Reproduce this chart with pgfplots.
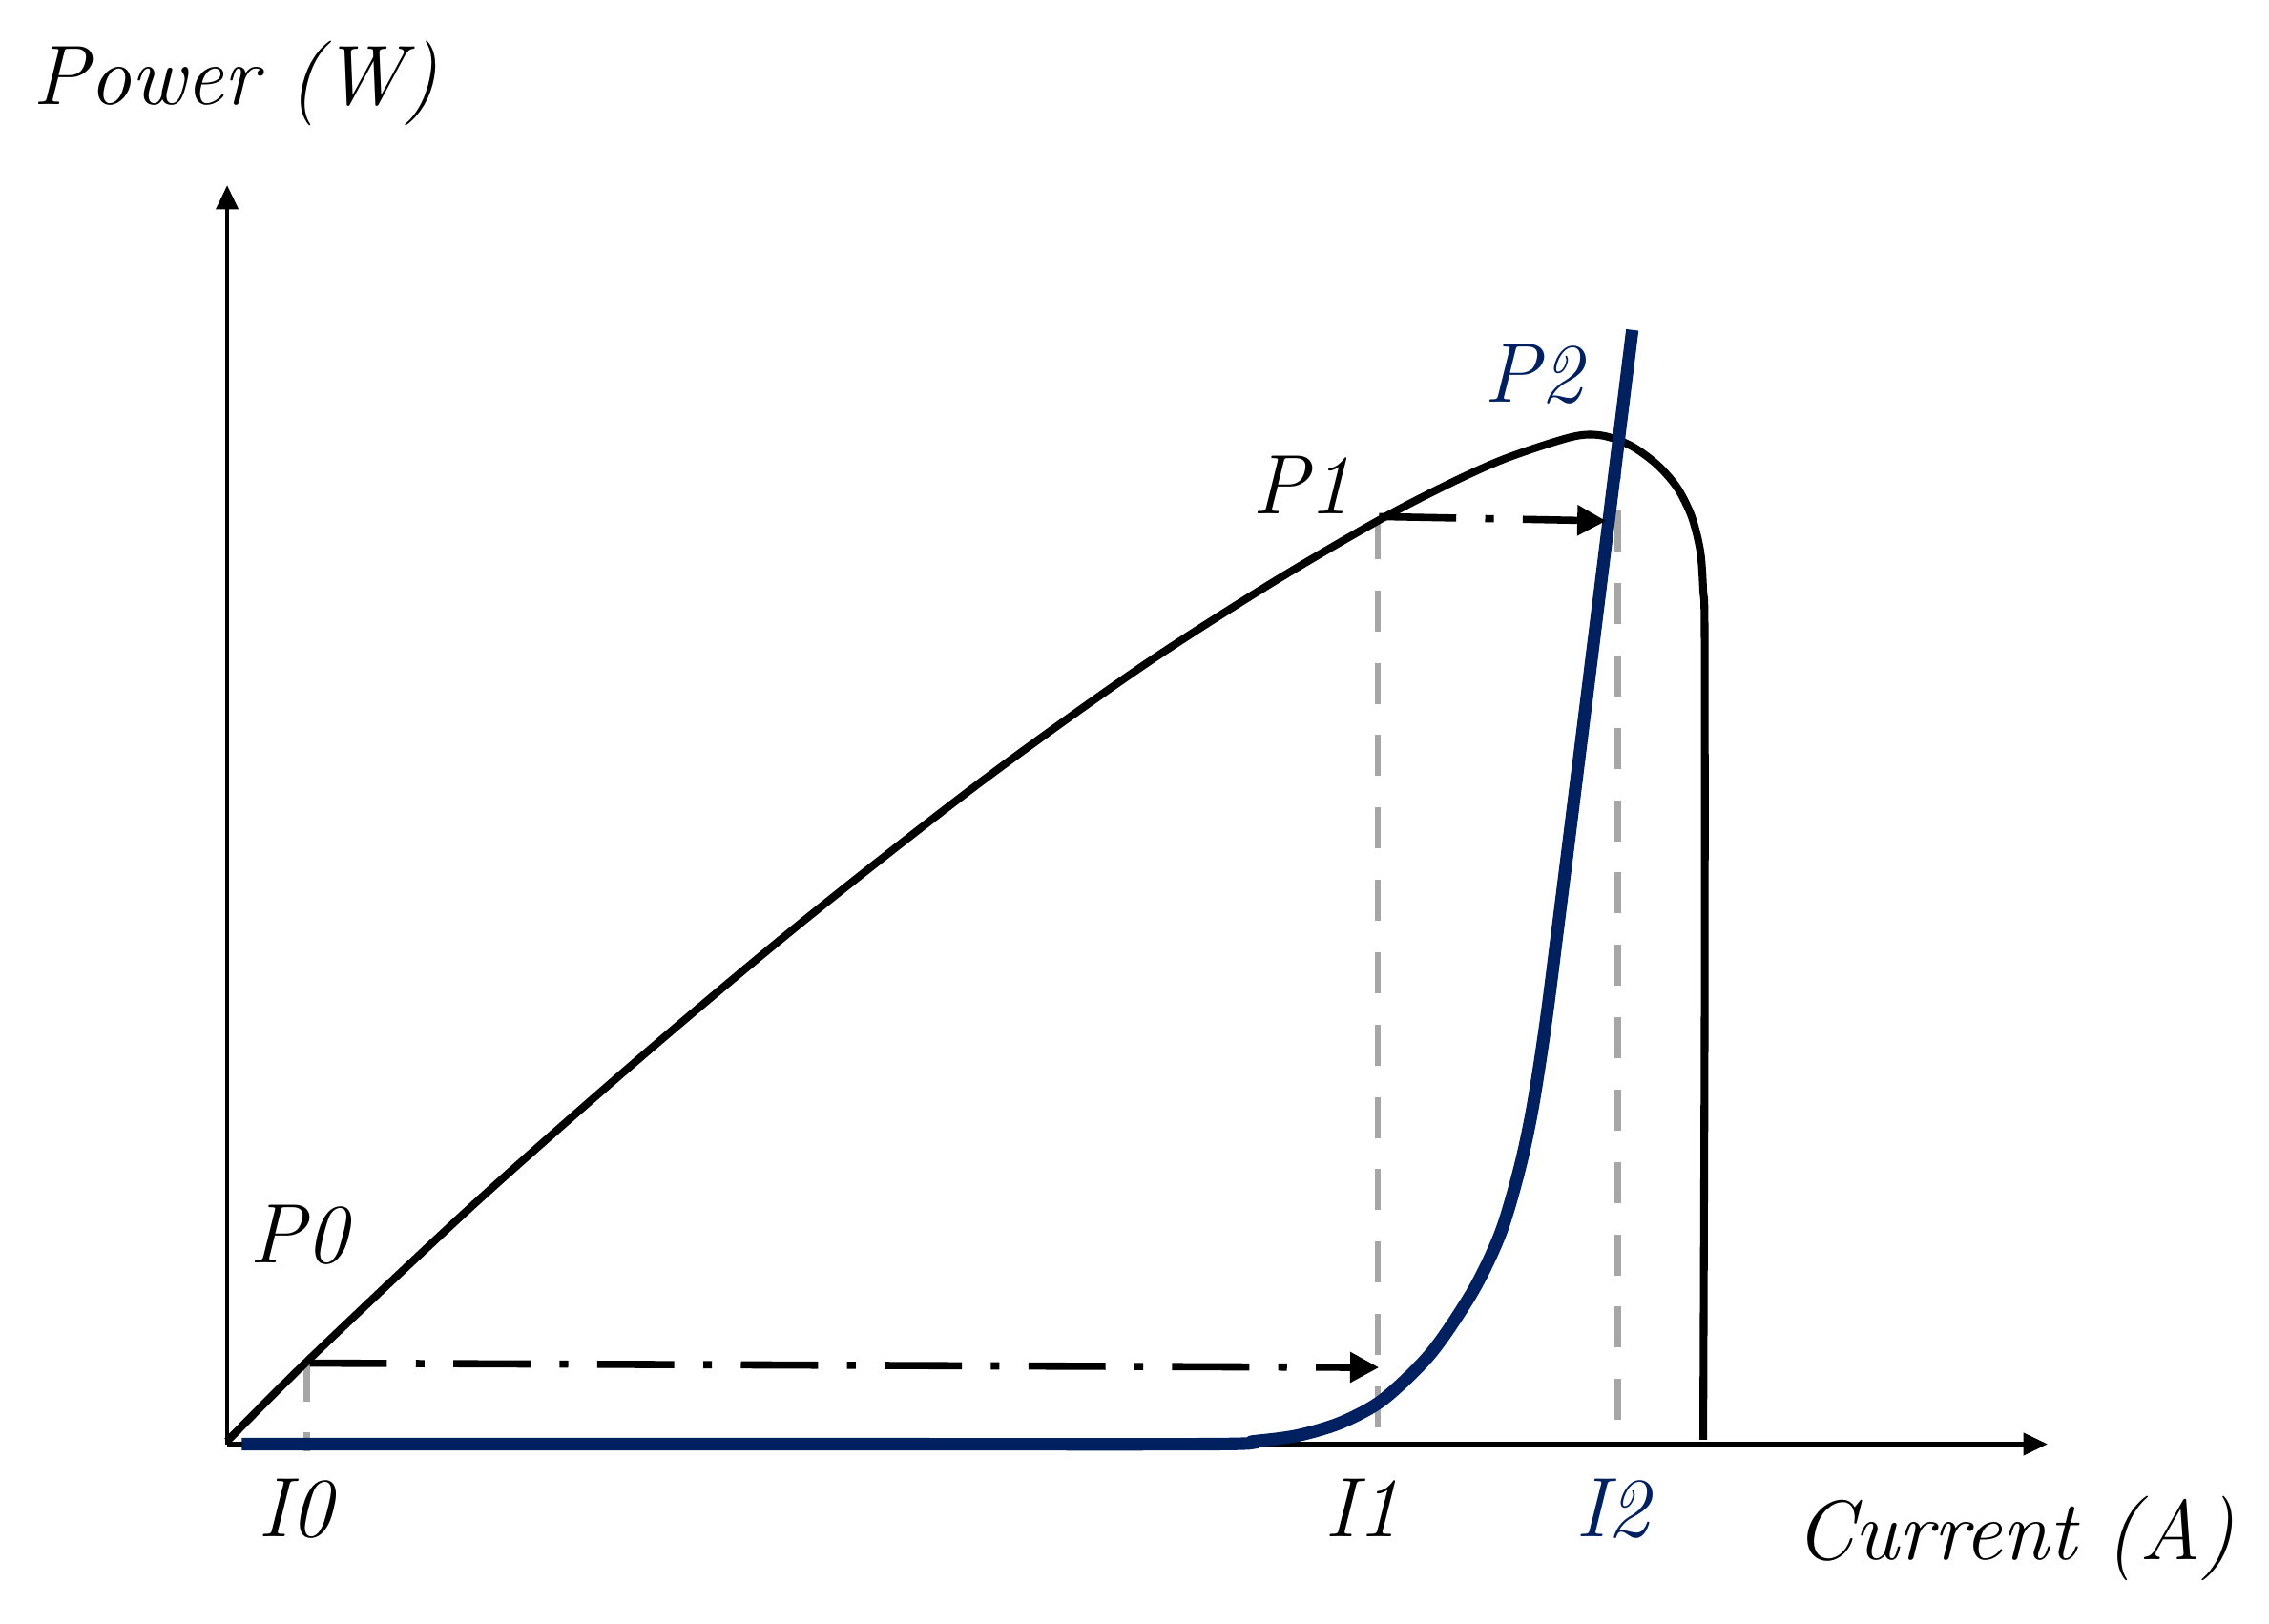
\documentclass[border=0pt]{standalone}
\usepackage{pgfplots}
\pgfplotsset{compat=1.18}
\usetikzlibrary{arrows.meta}
\definecolor{navy}{HTML}{002060}
\definecolor{lgray}{HTML}{A6A6A6}
\newcommand\lbl{\fontsize{17.5}{21}\selectfont\itshape}
\begin{document}
\begin{tikzpicture}
\begin{axis}[
  scale only axis, width=377.4pt, height=261pt,
  xmin=0, xmax=1258, ymin=0, ymax=870,
  axis lines=left,
  axis line style={line width=0.9pt},
  x axis line style={-{Triangle[length=5pt,width=4.5pt]}},
  y axis line style={-{Triangle[length=5pt,width=4.5pt]}},
  ticks=none,
  clip=false,
]
% gray dashed guides
\addplot[lgray, line width=1.3pt, dash pattern=on 8.5pt off 6.5pt] coordinates {(55,58) (55,-5)};
\addplot[lgray, line width=1.3pt, dash pattern=on 8.5pt off 6.5pt] coordinates {(795,640) (795,-5)};
\addplot[lgray, line width=1.3pt, dash pattern=on 8.5pt off 6.5pt] coordinates {(961,695) (961,-2)};
% power curve
\addplot[black, line width=1.6pt, smooth] coordinates {
 (0,2) (56,58) (173,168) (290,271) (400,363) (520,457) (630,536) (720,594)
 (795,638) (843,663) (883,681) (929,696) (950,697) (970,690) (988,677)
 (1002,661) (1012,641) (1018,617) (1020,590) (1021,555) (1021,300) (1020,3)};
% load curve
\addplot[navy, line width=2.6pt, smooth] coordinates {
 (10,0) (400,0) (680,0) (710,2) (740,6) (770,15) (799,31) (832,63) (861,106)
 (880,146) (893,190) (902,232) (911,290) (920,360) (945,560) (971,770)};
% dash-dot arrows
\addplot[black, line width=1.5pt, dash pattern=on 16pt off 6pt on 1.8pt off 6pt,
  -{Triangle[length=6pt,width=6pt]}] coordinates {(57,56) (796,53)};
\addplot[black, line width=1.5pt, dash pattern=on 16pt off 6pt on 1.8pt off 6pt,
  -{Triangle[length=6pt,width=6pt]}] coordinates {(796,641) (953,638)};
% labels
\node[anchor=base west, inner sep=0] at (axis cs:-135,926) {\lbl Power (W)};
\node[anchor=base west, inner sep=0] at (axis cs:1083,-80) {\lbl Current (A)};
\node[anchor=base west, inner sep=0] at (axis cs:15,125) {\lbl P0};
\node[anchor=base west, inner sep=0] at (axis cs:708,643) {\lbl P1};
\node[anchor=base west, inner sep=0, text=navy] at (axis cs:868,720) {\lbl P2};
\node[anchor=base west, inner sep=0] at (axis cs:21,-64) {\lbl I0};
\node[anchor=base west, inner sep=0] at (axis cs:758,-64) {\lbl I1};
\node[anchor=base west, inner sep=0, text=navy] at (axis cs:931,-64) {\lbl I2};
\coordinate (bl) at (axis cs:-157,-124);
\coordinate (tr) at (axis cs:1411,998);
\end{axis}
\pgfresetboundingbox
\path (bl) rectangle (tr);
\end{tikzpicture}
\end{document}
